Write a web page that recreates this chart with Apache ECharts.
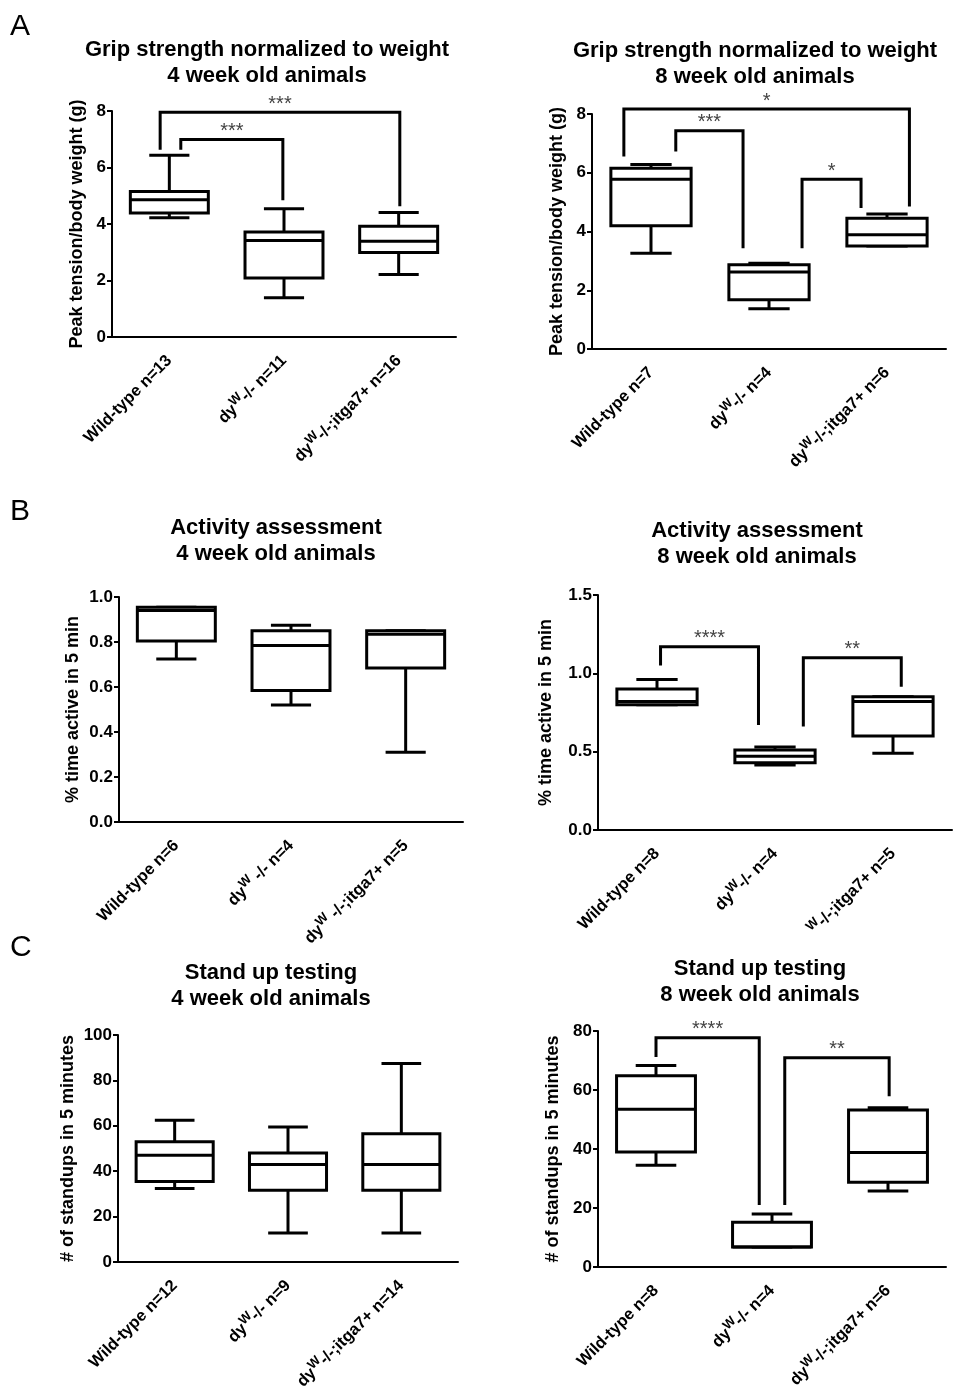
<!DOCTYPE html>
<html>
<head>
<meta charset="utf-8" />
<script src="https://cdn.jsdelivr.net/npm/echarts@6.0.0/dist/echarts.min.js"></script>
<style>
  html, body { margin: 0; padding: 0; background: #fff; }
</style>
</head>
<body>
<div id="main" style="width: 956px;height:1395px;"></div>
<script>
    // box data: [min, q1, median, q3, max]
    var gripLabels4 = ['Wild-type n=13', 'dy^W-/- n=11', 'dy^W-/-;itga7+ n=16'];
    var gripBoxes4 = [[4.22, 4.39, 4.86, 5.15, 6.43], [1.39, 2.09, 3.42, 3.72, 4.54], [2.21, 2.99, 3.39, 3.92, 4.41]];
    // brackets: [xLeft, xRight, yTop, yLeftEnd, yRightEnd] in category units
    var gripBrackets4 = [[-0.08, 2.01, 7.96, 6.63, 4.63], [0.1, 0.99, 6.99, 6.63, 4.84]];
    var gripStars4 = ['***', '***'];

    var gripLabels8 = ['Wild-type n=7', 'dy^W-/- n=4', 'dy^W-/-;itga7+ n=6'];
    var gripBoxes8 = [[3.26, 4.2, 5.78, 6.15, 6.28], [1.37, 1.68, 2.62, 2.87, 2.92], [3.51, 3.51, 3.89, 4.45, 4.6]];
    var gripBrackets8 = [[-0.23, 2.19, 8.17, 6.55, 4.85], [0.21, 0.78, 7.43, 6.72, 3.43], [1.28, 1.78, 5.78, 3.43, 4.8]];
    var gripStars8 = ['*', '***', '*'];

    var activityLabels4 = ['Wild-type n=6', 'dy^W -/- n=4', 'dy^W -/-;itga7+ n=5'];
    var activityBoxes4 = [[0.725, 0.805, 0.94, 0.955, 0.955], [0.52, 0.585, 0.785, 0.85, 0.875], [0.31, 0.685, 0.835, 0.85, 0.85]];

    var activityLabels8 = ['Wild-type n=8', 'dy^W-/- n=4', '^W-/-;itga7+ n=5'];
    var activityBoxes8 = [[0.8, 0.8, 0.82, 0.9, 0.96], [0.415, 0.43, 0.47, 0.51, 0.53], [0.49, 0.6, 0.82, 0.85, 0.85]];
    var activityBrackets8 = [[0.03, 0.86, 1.17, 1.05, 0.67], [1.24, 2.07, 1.1, 0.66, 0.915]];
    var activityStars8 = ['****', '**'];

    var standLabels4 = ['Wild-type n=12', 'dy^W-/- n=9', 'dy^W-/-;itga7+ n=14'];
    var standBoxes4 = [[32.4, 35.5, 47, 53, 62.5], [12.8, 31.6, 43, 48, 59.5], [12.8, 31.6, 43, 56.5, 87.5]];

    var standLabels8 = ['Wild-type n=8', 'dy^W-/- n=4', 'dy^W-/-;itga7+ n=6'];
    var standBoxes8 = [[34.5, 39, 53.5, 64.8, 68.3], [6.8, 6.8, 6.8, 15.2, 18], [25.8, 28.7, 38.8, 53.2, 54]];
    var standBrackets8 = [[0, 0.89, 77.7, 71.2, 21], [1.11, 2.01, 70.9, 21, 57.9]];
    var standStars8 = ['****', '**'];

    var FONT = "'Liberation Sans', Arial, sans-serif";

    var panels = [
        { labels: gripLabels4, boxes: gripBoxes4, brackets: gripBrackets4, stars: gripStars4,
          yName: 'Peak tension/body weight (g)', yMax: 8, yStep: 2, dec: 0, nameGap: 26,
          title: 'Grip strength normalized to weight\n4 week old animals', tx: 267, ty: 37,
          left: 112, top: 111, width: 344, height: 226 },
        { labels: gripLabels8, boxes: gripBoxes8, brackets: gripBrackets8, stars: gripStars8,
          yName: 'Peak tension/body weight (g)', yMax: 8, yStep: 2, dec: 0, nameGap: 26,
          title: 'Grip strength normalized to weight\n8 week old animals', tx: 755, ty: 38,
          left: 592, top: 114, width: 354, height: 235 },
        { labels: activityLabels4, boxes: activityBoxes4, brackets: [], stars: [],
          yName: '% time active in 5 min', yMax: 1.0, yStep: 0.2, dec: 1, nameGap: 37,
          title: 'Activity assessment\n4 week old animals', tx: 276, ty: 515,
          left: 119, top: 597, width: 344, height: 225 },
        { labels: activityLabels8, boxes: activityBoxes8, brackets: activityBrackets8, stars: activityStars8,
          yName: '% time active in 5 min', yMax: 1.5, yStep: 0.5, dec: 1, nameGap: 43,
          title: 'Activity assessment\n8 week old animals', tx: 757, ty: 518,
          left: 598, top: 595, width: 354, height: 235 },
        { labels: standLabels4, boxes: standBoxes4, brackets: [], stars: [],
          yName: '# of standups in 5 minutes', yMax: 100, yStep: 20, dec: 0, nameGap: 41,
          title: 'Stand up testing\n4 week old animals', tx: 271, ty: 960,
          left: 118, top: 1035, width: 340, height: 227 },
        { labels: standLabels8, boxes: standBoxes8, brackets: standBrackets8, stars: standStars8,
          yName: '# of standups in 5 minutes', yMax: 80, yStep: 20, dec: 0, nameGap: 36,
          title: 'Stand up testing\n8 week old animals', tx: 760, ty: 956,
          left: 598, top: 1031, width: 348, height: 236 }
    ];

    var chartDom = document.getElementById('main');
    var myChart = echarts.init(chartDom);

    function labelFormatter(v) {
        var parts = v.split('^W');
        if (parts.length < 2) return '{n|' + v + '}';
        var s = '';
        if (parts[0]) s += '{n|' + parts[0] + '}';
        return s + '{s|W}{n|' + parts[1] + '}';
    }

    function boxItem(params, api) {
        var x = api.value(0);
        var lo = api.coord([x, api.value(1)]);
        var q1 = api.coord([x, api.value(2)]);
        var md = api.coord([x, api.value(3)]);
        var q3 = api.coord([x, api.value(4)]);
        var hi = api.coord([x, api.value(5)]);
        var band = api.size([1, 0])[0];
        var bw = band * 0.68, cw = band * 0.35;
        var cx = lo[0];
        var st = { stroke: '#000', lineWidth: 3, fill: null };
        return {
            type: 'group',
            children: [
                { type: 'line', shape: { x1: cx, y1: hi[1], x2: cx, y2: q3[1] }, style: st },
                { type: 'line', shape: { x1: cx, y1: lo[1], x2: cx, y2: q1[1] }, style: st },
                { type: 'line', shape: { x1: cx - cw / 2, y1: hi[1], x2: cx + cw / 2, y2: hi[1] }, style: st },
                { type: 'line', shape: { x1: cx - cw / 2, y1: lo[1], x2: cx + cw / 2, y2: lo[1] }, style: st },
                { type: 'rect', shape: { x: cx - bw / 2, y: q3[1], width: bw, height: q1[1] - q3[1] },
                  style: { stroke: '#000', fill: '#fff', lineWidth: 3 } },
                { type: 'line', shape: { x1: cx - bw / 2, y1: md[1], x2: cx + bw / 2, y2: md[1] }, style: st }
            ]
        };
    }

    function bracketRenderer(stars) {
        return function(params, api) {
            var a = api.coord([api.value(0), api.value(3)]);
            var b = api.coord([api.value(0), api.value(2)]);
            var c = api.coord([api.value(1), api.value(2)]);
            var d = api.coord([api.value(1), api.value(4)]);
            return {
                type: 'group',
                children: [
                    { type: 'polyline', shape: { points: [a, b, c, d] },
                      style: { stroke: '#000', lineWidth: 3, fill: null } },
                    { type: 'text', x: (b[0] + c[0]) / 2, y: b[1] + 2,
                      style: { text: stars[params.dataIndex], textAlign: 'center', textVerticalAlign: 'bottom',
                               font: '20px ' + FONT, fill: '#444' } }
                ]
            };
        };
    }

    var grids = [], xAxes = [], yAxes = [], series = [], graphics = [];

    panels.forEach(function(p, i) {
        grids.push({ left: p.left, top: p.top, width: p.width, height: p.height });
        xAxes.push({
            type: 'category', gridIndex: i, data: p.labels, boundaryGap: true,
            axisLine: { onZero: false, lineStyle: { color: '#000', width: 2 } },
            axisTick: { alignWithLabel: true, length: 6, lineStyle: { color: '#000', width: 2 } },
            axisLabel: {
                interval: 0, rotate: 45, margin: 21, formatter: labelFormatter,
                rich: {
                    n: { fontFamily: FONT, fontWeight: 'bold', fontSize: 16.5, color: '#000' },
                    s: { fontFamily: FONT, fontWeight: 'bold', fontSize: 13, color: '#000', padding: [0, 0, 10, 0] }
                }
            }
        });
        xAxes.push({ type: 'value', gridIndex: i, min: -0.5, max: 2.5, show: false });
        yAxes.push({
            type: 'value', gridIndex: i, min: 0, max: p.yMax, interval: p.yStep,
            name: p.yName, nameLocation: 'middle', nameRotate: 90, nameGap: p.nameGap,
            nameTextStyle: { fontFamily: FONT, fontWeight: 'bold', fontSize: 18, color: '#000' },
            axisLine: { show: true, onZero: false, lineStyle: { color: '#000', width: 2 } },
            axisTick: { show: true, length: 5, lineStyle: { color: '#000', width: 2 } },
            splitLine: { show: false },
            axisLabel: {
                fontFamily: FONT, fontWeight: 'bold', fontSize: 17, color: '#000', margin: 6,
                formatter: (function(dec) { return function(v) { return v.toFixed(dec); }; })(p.dec)
            }
        });
        series.push({
            type: 'custom', xAxisIndex: 2 * i, yAxisIndex: i,
            data: p.boxes.map(function(b, k) { return [k].concat(b); }),
            encode: { x: 0, y: [1, 2, 3, 4, 5] },
            renderItem: boxItem, clip: false, silent: true
        });
        if (p.brackets.length) {
            series.push({
                type: 'custom', xAxisIndex: 2 * i + 1, yAxisIndex: i,
                data: p.brackets,
                encode: { x: [0, 1], y: [2, 3, 4] },
                renderItem: bracketRenderer(p.stars), clip: false, silent: true, z: 3
            });
        }
        graphics.push({
            type: 'text', x: p.tx, y: p.ty,
            style: { text: p.title, textAlign: 'center', textVerticalAlign: 'top',
                     font: 'bold 22px ' + FONT, lineHeight: 26, fill: '#000' }
        });
    });

    [['A', 12], ['B', 497], ['C', 933]].forEach(function(l) {
        graphics.push({
            type: 'text', x: 10, y: l[1],
            style: { text: l[0], font: '30px ' + FONT, fill: '#000' }
        });
    });

    var option = {
        backgroundColor: '#fff',
        animation: false,
        grid: grids,
        xAxis: xAxes,
        yAxis: yAxes,
        series: series,
        graphic: graphics
    };
    myChart.setOption(option);
</script>
</body>
</html>
